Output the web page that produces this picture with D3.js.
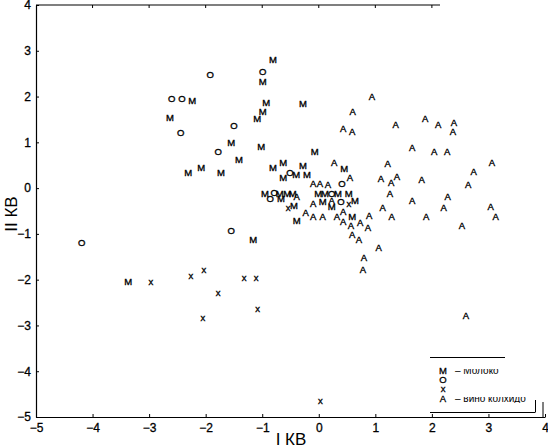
<!DOCTYPE html>
<html><head><meta charset="utf-8">
<script src="https://cdn.jsdelivr.net/npm/d3@7"></script>
<style>body{margin:0;background:#fff}svg{display:block}text{font-family:"Liberation Sans",Arial,sans-serif;fill:#000}</style>
</head><body>
<svg id="c" width="548" height="447"></svg>
<script>
// Group M (Молоко)
const seriesM = [[-0.81,2.82],[-0.99,2.33],[-2.24,1.92],[-2.63,1.55],[-0.93,1.88],[-0.99,1.68],[-1.09,1.51],[-0.28,1.84],[-1.55,0.99],[-1.02,0.90],[-1.41,0.63],[-0.07,0.79],[-2.31,0.35],[-2.08,0.44],[-1.73,0.35],[-0.81,0.46],[-0.63,0.55],[-0.28,0.50],[-0.40,0.29],[-0.21,0.29],[-0.63,0.24],[0.45,0.42],[-0.95,-0.11],[-0.69,-0.11],[-0.56,-0.11],[-0.46,-0.11],[-0.01,-0.11],[0.11,-0.11],[0.34,-0.11],[0.53,-0.11],[-0.67,-0.22],[-0.44,-0.37],[0.07,-0.30],[0.64,-0.28],[0.23,-0.41],[-0.39,-0.70],[0.59,-0.61],[-3.37,-2.05],[-1.16,-1.13]];
// Group O
const seriesO = [[-0.99,2.54],[-1.92,2.49],[-2.60,1.95],[-2.42,1.95],[-2.44,1.22],[-1.50,1.36],[-1.78,0.81],[-0.51,0.35],[0.41,0.11],[-0.79,-0.09],[0.23,-0.11],[-0.86,-0.22],[0.39,-0.30],[-4.19,-1.18],[-1.55,-0.92]];
// Group x
const seriesX = [[0.53,-0.33],[-0.54,-0.43],[-2.97,-2.05],[-2.26,-1.90],[-2.03,-1.77],[-1.32,-1.96],[-1.11,-1.96],[-1.78,-2.29],[-1.08,-2.62],[-2.05,-2.82],[0.03,-4.65]];
// Group A
const seriesA = [[0.94,2.01],[0.60,1.67],[0.43,1.31],[0.59,1.23],[1.36,1.40],[1.88,1.51],[2.11,1.38],[2.39,1.44],[2.37,1.23],[1.65,0.88],[2.04,0.79],[2.27,0.79],[1.22,0.53],[3.06,0.55],[2.74,0.37],[0.55,0.24],[1.10,0.20],[1.28,0.13],[1.38,0.26],[1.82,0.18],[2.64,0.07],[1.26,-0.11],[2.28,-0.19],[1.65,-0.28],[1.13,-0.43],[2.21,-0.43],[3.04,-0.41],[3.13,-0.61],[0.89,-0.59],[1.29,-0.63],[1.90,-0.61],[2.53,-0.81],[0.59,-1.02],[0.71,-1.13],[1.06,-1.29],[0.80,-1.51],[0.78,-1.77],[2.60,-2.79],[0.27,0.55],[-0.10,0.09],[0.02,0.09],[0.16,0.07],[-0.39,-0.19],[-0.10,-0.33],[0.23,-0.26],[-0.23,-0.54],[-0.10,-0.61],[0.07,-0.61],[0.32,-0.61],[0.43,-0.52],[0.43,-0.72],[0.57,-0.81],[0.73,-0.76],[0.87,-0.85]];
const groups = [
  {sym:"M", pts:seriesM},
  {sym:"O", pts:seriesO},
  {sym:"x", pts:seriesX},
  {sym:"A", pts:seriesA}
];
const xTicks = [-5,-4,-3,-2,-1,0,1,2,3,4];
const yTicks = [-5,-4,-3,-2,-1,0,1,2,3,4];
const xTitle = "I КВ", yTitle = "II КВ";
const legendRows = [["M","– Молоко"],["O",""],["x",""],["A","– вино колхидо"]];

const svg = d3.select("#c");
const x = d3.scaleLinear().domain([-5,4]).range([36,545]);
const y = d3.scaleLinear().domain([-5,4]).range([417,5]);
const fmt = d => d < 0 ? "\u2212" + Math.abs(d) : String(d);

// bottom axis
const gx = svg.append("g").attr("transform","translate(0,417)")
  .call(d3.axisBottom(x).tickValues(xTicks).tickSizeInner(-3).tickSizeOuter(0).tickPadding(6).tickFormat(fmt));
gx.selectAll("text").attr("font-size",12).attr("font-family","Liberation Sans, Arial, sans-serif").attr("fill","#000").attr("stroke","#000").attr("stroke-width",0.3);
// left axis
const gy = svg.append("g").attr("transform","translate(36,0)")
  .call(d3.axisLeft(y).tickValues(yTicks).tickSizeInner(-3).tickSizeOuter(0).tickPadding(5).tickFormat(fmt));
gy.selectAll("text").attr("font-size",12).attr("font-family","Liberation Sans, Arial, sans-serif").attr("fill","#000").attr("stroke","#000").attr("stroke-width",0.3);
svg.selectAll(".domain").attr("stroke","#000").attr("stroke-width",1.2);
svg.selectAll(".tick line").attr("stroke","#000");

// top partial border with ticks
svg.append("line").attr("x1",x(-5)).attr("x2",440).attr("y1",y(4)).attr("y2",y(4)).attr("stroke","#000").attr("stroke-width",1.2);
svg.append("g").selectAll("line").data(xTicks.filter(d => x(d) > x(-5) && x(d) < 440)).join("line")
  .attr("x1",d=>x(d)).attr("x2",d=>x(d)).attr("y1",y(4)).attr("y2",y(4)+3).attr("stroke","#000");
// short right border piece
svg.append("line").attr("x1",543).attr("x2",543).attr("y1",402).attr("y2",y(-5)).attr("stroke","#000");

// titles
svg.append("text").attr("x",291).attr("y",445).attr("text-anchor","middle").attr("font-size",17).text(xTitle);
svg.append("text").attr("transform","translate(17,214) rotate(-90)").attr("text-anchor","middle").attr("font-size",17).text(yTitle);

// points
groups.forEach(g => {
  svg.append("g").selectAll("text").data(g.pts).join("text")
    .attr("x",d=>x(d[0])).attr("y",d=>y(d[1]))
    .attr("text-anchor","middle").attr("dominant-baseline","central")
    .attr("font-size",9.5).attr("stroke","#000").attr("stroke-width",0.35).text(g.sym);
});

// legend
const lg = svg.append("g");
lg.append("line").attr("x1",430).attr("x2",505).attr("y1",357.5).attr("y2",357.5).attr("stroke","#000");
lg.append("line").attr("x1",430).attr("x2",535).attr("y1",412.5).attr("y2",412.5).attr("stroke","#000");
lg.append("line").attr("x1",535.5).attr("x2",535.5).attr("y1",400).attr("y2",412.5).attr("stroke","#000");
const rowY = [370,379,388,398];
const clip = svg.append("defs").append("clipPath").attr("id","lc");
rowY.forEach(ry => clip.append("rect").attr("x",450).attr("y",ry-1).attr("width",90).attr("height",6));
legendRows.forEach((r,i) => {
  lg.append("text").attr("x",443).attr("y",rowY[i]).attr("text-anchor","middle").attr("dominant-baseline","central").attr("font-size",9.5).attr("stroke","#000").attr("stroke-width",0.3).text(r[0]);
  lg.append("text").attr("x",455).attr("y",rowY[i]).attr("dominant-baseline","central").attr("font-size",10).attr("clip-path","url(#lc)").text(r[1]);
});
</script>
</body></html>
